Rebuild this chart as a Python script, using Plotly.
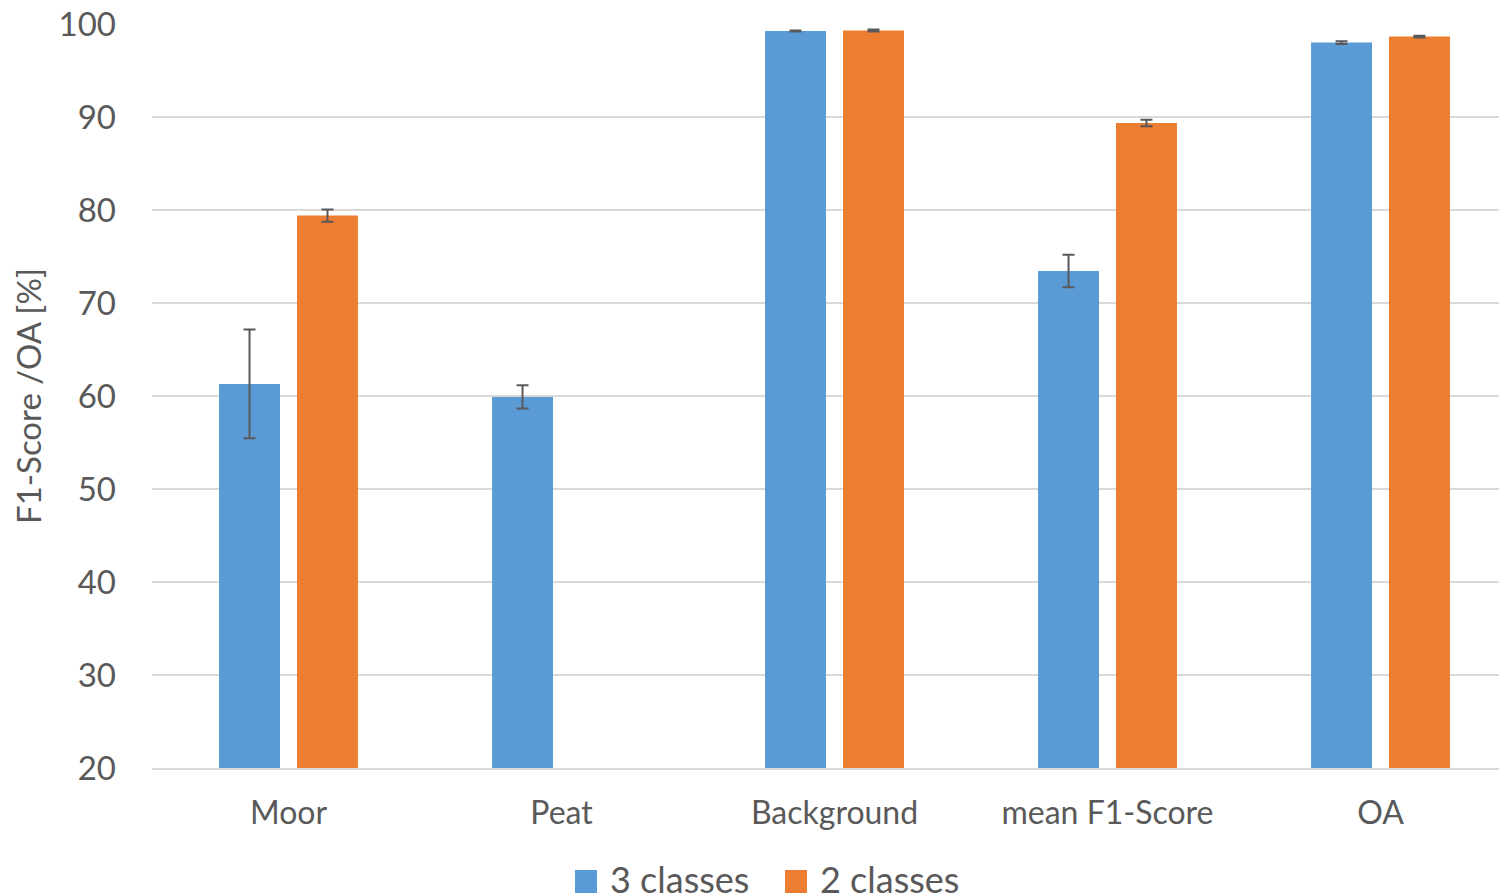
import plotly.graph_objects as go

categories = ["Moor", "Peat", "Background", "mean F1-Score", "OA"]
three_classes = [61.3, 59.9, 99.25, 73.45, 98.0]
three_err = [5.85, 1.25, 0.05, 1.75, 0.15]
two_classes = [79.4, None, 99.3, 89.35, 98.65]
two_err = [0.65, None, 0.1, 0.35, 0.1]
y_ticks = [20, 30, 40, 50, 60, 70, 80, 90, 100]
series_names = ["3 classes", "2 classes"]
series_colors = ["#5B9BD5", "#ED7D31"]

font_family = "Lato, 'Open Sans', sans-serif"
text_color = "#595959"

OFF = 8  # page body margin offset
FIG_W, FIG_H = 1507 - OFF, 895 - OFF

fig = go.Figure()
for name, vals, errs, col in [(series_names[0], three_classes, three_err, series_colors[0]),
                              (series_names[1], two_classes, two_err, series_colors[1])]:
    fig.add_trace(go.Bar(
        name=name, x=categories, y=vals, showlegend=False,
        marker=dict(color=col, line=dict(width=0)),
        error_y=dict(type="data", array=errs, color="#595959", thickness=2, width=6),
    ))

# plot area in figure coordinates
L, T, B, R = 152 - OFF, 24 - OFF, 768 - OFF, FIG_W
W, H = R - L, B - T
cat_px = 273.0
x_max = -0.5 + W / cat_px

def px(x):
    return (x - OFF - L) / W

def py(y):
    return (B - (y - OFF)) / H

# Manual legend (paper coordinates) for larger square swatches
legend_items = [(575, 608), (785, 818)]
for (sx, tx), name, col in zip(legend_items, series_names, series_colors):
    fig.add_shape(type="rect", xref="paper", yref="paper",
                  x0=px(sx), x1=px(sx + 22), y0=py(870), y1=py(893),
                  fillcolor=col, line=dict(width=0))
    fig.add_annotation(xref="paper", yref="paper", x=px(tx), y=py(879),
                       xanchor="left", yanchor="middle", showarrow=False,
                       text=name, font=dict(size=36, color=text_color, family=font_family))

fig.update_layout(
    width=FIG_W, height=FIG_H,
    margin=dict(l=L, r=FIG_W - R, t=T, b=FIG_H - B, autoexpand=False),
    paper_bgcolor="white", plot_bgcolor="white",
    barmode="group", bargap=0.429, bargroupgap=0.218,
    font=dict(family=font_family, color=text_color),
    showlegend=False,
    xaxis=dict(range=[-0.5, x_max], showgrid=False, showline=True, linecolor="#d9d9d9", linewidth=2,
               tickfont=dict(size=32, color=text_color), ticks="", ticklabelstandoff=16,
               automargin=False, ticklabeloverflow="allow"),
    yaxis=dict(range=[20, 100], tickvals=y_ticks, showgrid=True, gridcolor="#d9d9d9", gridwidth=2,
               zeroline=False, showline=False, tickfont=dict(size=33, color=text_color), ticks="",
               ticklabelstandoff=35, automargin=False, ticklabeloverflow="allow",
               title=dict(text="F1-Score /OA [%]", font=dict(size=33, color=text_color), standoff=22)),
)

fig.write_html("out.html")
